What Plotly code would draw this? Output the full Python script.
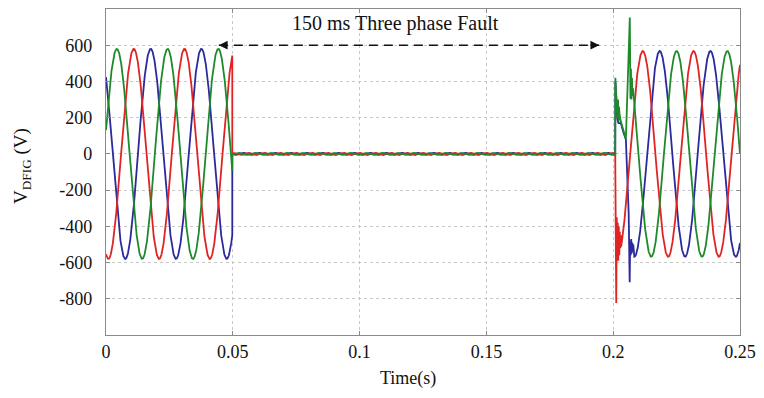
import numpy as np
import plotly.graph_objects as go

# ---- values ----
FREQ_HZ = 50
T_END = 0.25
FAULT_START = 0.0498
FAULT_END = 0.2008

PHASES = ["a", "b", "c"]
COLORS = {"a": "#e02424", "b": "#1e8a2a", "c": "#2a2a9c"}

PRE_AMP = {"a": 580, "b": 580, "c": 580}
PRE_PEAK_DEG = {"a": 197, "b": 77, "c": 317}
POST_AMP = {"a": 568, "b": 568, "c": 568}
POST_PEAK_DEG = {"a": 210, "b": 90, "c": 330}
POST_START = {"a": 0.2031, "b": 0.2078, "c": 0.2082}

FAULT_RIPPLE_AMP = 6
FAULT_RIPPLE_HZ = 160
FAULT_RIPPLE_DEG = {"a": 0, "b": 120, "c": 240}

# transient points after fault clearing (time s, voltage V)
TR_T = {
    "a": [0.2008, 0.2012, 0.2014, 0.2016, 0.2018, 0.2020, 0.2022, 0.2024, 0.2026, 0.2028, 0.2030],
    "b": [0.2008, 0.20085, 0.2013, 0.2015, 0.2017, 0.2019, 0.2021, 0.2023, 0.2025, 0.2030, 0.2040,
          0.2050, 0.20655, 0.2068, 0.2070, 0.2072, 0.2074, 0.2076],
    "c": [0.2008, 0.20085, 0.2013, 0.2017, 0.2021, 0.2030, 0.2040, 0.2050, 0.2061, 0.2065, 0.2067,
          0.2069, 0.2071, 0.2073, 0.2075, 0.2077, 0.2079, 0.2081],
}
TR_V = {
    "a": [0, -823, -350, -560, -380, -590, -400, -560, -430, -520, -450],
    "b": [0, 420, 290, 316, 200, 300, 180, 260, 220, 180, 130,
          82, 753, 305, 470, 300, 420, 320],
    "c": [0, 400, 280, 190, 170, 170, 120, 80, -327, -709, -480,
          -560, -470, -550, -490, -540, -500, -545],
}

X_TICKS = [0, 0.05, 0.1, 0.15, 0.2, 0.25]
X_TICK_TEXT = ["0", "0.05", "0.1", "0.15", "0.2", "0.25"]
Y_TICKS = [-800, -600, -400, -200, 0, 200, 400, 600]
Y_TICK_TEXT = ["-800", "-600", "-400", "-200", "0", "200", "400", "600"]
ANNOT_TEXT = "150 ms Three phase Fault"
ARROW_T = [0.0445, 0.1945]
ARROW_V = 600

DT = 0.00005


def build(p):
    w = 2 * np.pi * FREQ_HZ
    t_pre = np.arange(0, FAULT_START + DT / 2, DT)
    v_pre = PRE_AMP[p] * np.cos(w * t_pre - np.deg2rad(PRE_PEAK_DEG[p]))
    t_f = np.arange(FAULT_START, FAULT_END, DT)
    v_f = FAULT_RIPPLE_AMP * np.cos(2 * np.pi * FAULT_RIPPLE_HZ * t_f - np.deg2rad(FAULT_RIPPLE_DEG[p]))
    t_tr = np.array(TR_T[p])
    v_tr = np.array(TR_V[p], dtype=float)
    t_post = np.arange(POST_START[p], T_END + DT / 2, DT)
    v_post = POST_AMP[p] * np.cos(w * t_post - np.deg2rad(POST_PEAK_DEG[p]))
    t = np.concatenate([t_pre, t_f, t_tr, t_post])
    v = np.concatenate([v_pre, v_f, v_tr, v_post])
    return t, v


fig = go.Figure()
for p in ["c", "a", "b"]:
    t, v = build(p)
    fig.add_trace(go.Scatter(x=t, y=v, mode="lines",
                             line=dict(color=COLORS[p], width=1.8),
                             showlegend=False, hoverinfo="skip"))

# dashed arrow line
fig.add_trace(go.Scatter(x=ARROW_T, y=[ARROW_V, ARROW_V], mode="lines",
                         line=dict(color="#111111", width=1.6, dash="9px,6px"),
                         showlegend=False, hoverinfo="skip"))
for tip, tail in [(ARROW_T[0], ARROW_T[0] + 0.004), (ARROW_T[1], ARROW_T[1] - 0.004)]:
    fig.add_annotation(x=tip, y=ARROW_V, ax=tail, ay=ARROW_V, xref="x", yref="y",
                       axref="x", ayref="y", text="", showarrow=True,
                       arrowhead=2, arrowsize=1.1, arrowwidth=1.6, arrowcolor="#111111")

fig.add_annotation(x=(ARROW_T[0] + ARROW_T[1]) / 2 - 0.0055, y=ARROW_V, yshift=22,
                   xref="x", yref="y", text=ANNOT_TEXT, showarrow=False,
                   font=dict(family="Liberation Serif", size=20, color="#111111"))

fig.add_annotation(x=0, xref="paper", y=0.5, yref="paper", xshift=-84, yshift=6,
                   xanchor="center", yanchor="middle",
                   text="V<sub>DFIG</sub> (V)", textangle=-90, showarrow=False,
                   font=dict(family="Liberation Serif", size=19, color="#111111"))
fig.add_annotation(x=0.477, xref="paper", y=0, yref="paper", yshift=-43,
                   xanchor="center", yanchor="middle",
                   text="Time(s)", showarrow=False,
                   font=dict(family="Liberation Serif", size=18, color="#111111"))

axis_common = dict(showline=True, linecolor="#8a8a8a", linewidth=1.2, mirror="ticks",
                   ticks="inside", ticklen=4, tickcolor="#8a8a8a",
                   showgrid=True, gridcolor="#c8c8c8", griddash="dot", gridwidth=1,
                   zeroline=False,
                   tickfont=dict(family="Liberation Serif", size=18, color="#111111"))

fig.update_xaxes(range=[0, T_END], tickvals=X_TICKS, ticktext=X_TICK_TEXT, **axis_common)
fig.update_yaxes(range=[-1000, 800], tickvals=Y_TICKS, ticktext=Y_TICK_TEXT,
                 ticklabelstandoff=9, **axis_common)

fig.update_layout(width=764, height=398, margin=dict(l=106, r=21, t=8, b=63),
                  paper_bgcolor="white", plot_bgcolor="white")

fig.write_html("out.html")
